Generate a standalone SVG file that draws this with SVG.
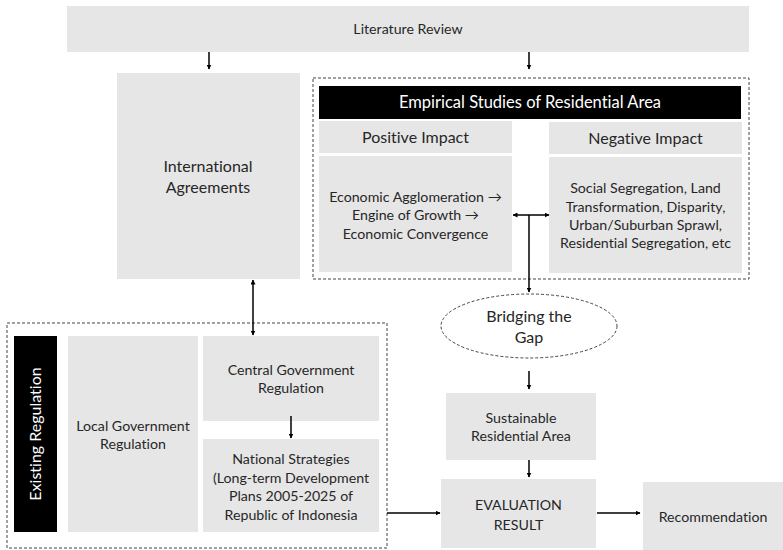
<svg xmlns="http://www.w3.org/2000/svg" width="783" height="550" viewBox="0 0 783 550">
<style>
.box{fill:#e6e6e6;}
.blk{fill:#000;}
.dash{fill:none;stroke:#444;stroke-width:1;stroke-dasharray:3,2;}
text{font-family:Lato,"Liberation Sans",sans-serif;fill:#262626;text-anchor:middle;font-variant-ligatures:none;font-feature-settings:"liga" 0,"dlig" 0;}
.t14{font-size:14.2px;}
.t16{font-size:16px;}
.t165{font-size:16.5px;}
.w{fill:#fff;}
.ln{stroke:#000;stroke-width:1.5;fill:none;}
</style>
<defs>
<marker id="ah" viewBox="0 0 10 10" refX="9" refY="5" markerWidth="5" markerHeight="5" orient="auto-start-reverse" markerUnits="userSpaceOnUse">
<path d="M0,0 L10,5 L0,10 z" fill="#000"/>
</marker>
</defs>

<g id="literature-review">
<rect class="box" x="67" y="6" width="682" height="46"/>
<text class="t14" x="408" y="34">Literature Review</text>
</g>

<g id="international-agreements">
<rect class="box" x="117" y="73" width="183" height="206"/>
<text class="t16" x="208" y="172">International</text>
<text class="t16" x="208" y="193">Agreements</text>
</g>

<g id="empirical-studies">
<rect class="dash" x="313" y="78" width="436" height="201"/>
<rect class="blk" x="319" y="86" width="422" height="33"/>
<text class="t165 w" x="530" y="108">Empirical Studies of Residential Area</text>
</g>

<g id="positive-impact">
<rect class="box" x="319" y="121" width="193" height="32"/>
<text class="t16" x="415.5" y="143">Positive Impact</text>
<rect class="box" x="319" y="156" width="193" height="116"/>
<text class="t14" x="415.5" y="202">Economic Agglomeration →</text>
<text class="t14" x="415.5" y="220">Engine of Growth →</text>
<text class="t14" x="415.5" y="239">Economic Convergence</text>
</g>

<g id="negative-impact">
<rect class="box" x="549" y="122" width="193" height="32"/>
<text class="t16" x="645.5" y="144">Negative Impact</text>
<rect class="box" x="549" y="157" width="193" height="116"/>
<text class="t14" x="645.5" y="193">Social Segregation, Land</text>
<text class="t14" x="645.5" y="212">Transformation, Disparity,</text>
<text class="t14" x="645.5" y="230">Urban/Suburban Sprawl,</text>
<text class="t14" x="645.5" y="248">Residential Segregation, etc</text>
</g>

<g id="bridging-the-gap">
<ellipse class="dash" cx="529" cy="326" rx="88" ry="32"/>
<text class="t16" x="529" y="322">Bridging the</text>
<text class="t16" x="529" y="343">Gap</text>
</g>

<g id="sustainable-residential-area">
<rect class="box" x="446" y="393" width="150" height="67"/>
<text class="t14" x="521" y="423">Sustainable</text>
<text class="t14" x="521" y="441">Residential Area</text>
</g>

<g id="evaluation-result">
<rect class="box" x="441" y="479" width="155" height="69"/>
<text class="t14" x="518.5" y="510">EVALUATION</text>
<text class="t14" x="518.5" y="530">RESULT</text>
</g>

<g id="recommendation">
<rect class="box" x="643" y="482" width="140" height="68"/>
<text class="t14" x="713" y="522">Recommendation</text>
</g>

<g id="existing-regulation">
<rect class="dash" x="7" y="323" width="380" height="225"/>
<rect class="blk" x="14" y="336" width="43" height="196"/>
<text class="t16 w" transform="translate(41,434) rotate(-90)" x="0" y="0">Existing Regulation</text>
</g>

<g id="local-government-regulation">
<rect class="box" x="68" y="336" width="130" height="196"/>
<text class="t14" x="133" y="431">Local Government</text>
<text class="t14" x="133" y="449">Regulation</text>
</g>

<g id="central-government-regulation">
<rect class="box" x="203" y="336" width="176" height="85"/>
<text class="t14" x="291" y="375">Central Government</text>
<text class="t14" x="291" y="393">Regulation</text>
</g>

<g id="national-strategies">
<rect class="box" x="203" y="439" width="176" height="93"/>
<text class="t14" x="291" y="464">National Strategies</text>
<text class="t14" x="291" y="483">(Long-term Development</text>
<text class="t14" x="291" y="501">Plans 2005-2025 of</text>
<text class="t14" x="291" y="520">Republic of Indonesia</text>
</g>

<g id="connectors">
<line class="ln" x1="209" y1="52" x2="209" y2="69" marker-end="url(#ah)"/>
<line class="ln" x1="529" y1="52" x2="529" y2="69" marker-end="url(#ah)"/>
<line class="ln" x1="513" y1="215" x2="549" y2="215" marker-start="url(#ah)" marker-end="url(#ah)"/>
<line class="ln" x1="529" y1="215" x2="529" y2="292" marker-end="url(#ah)"/>
<line class="ln" x1="253" y1="280" x2="253" y2="335" marker-start="url(#ah)" marker-end="url(#ah)"/>
<line class="ln" x1="291" y1="416" x2="291" y2="438" marker-end="url(#ah)"/>
<line class="ln" x1="529" y1="371" x2="529" y2="389" marker-end="url(#ah)"/>
<line class="ln" x1="529" y1="460" x2="529" y2="477" marker-end="url(#ah)"/>
<line class="ln" x1="387" y1="513" x2="440" y2="513" marker-end="url(#ah)"/>
<line class="ln" x1="597" y1="513" x2="640" y2="513" marker-end="url(#ah)"/>
</g>
</svg>
